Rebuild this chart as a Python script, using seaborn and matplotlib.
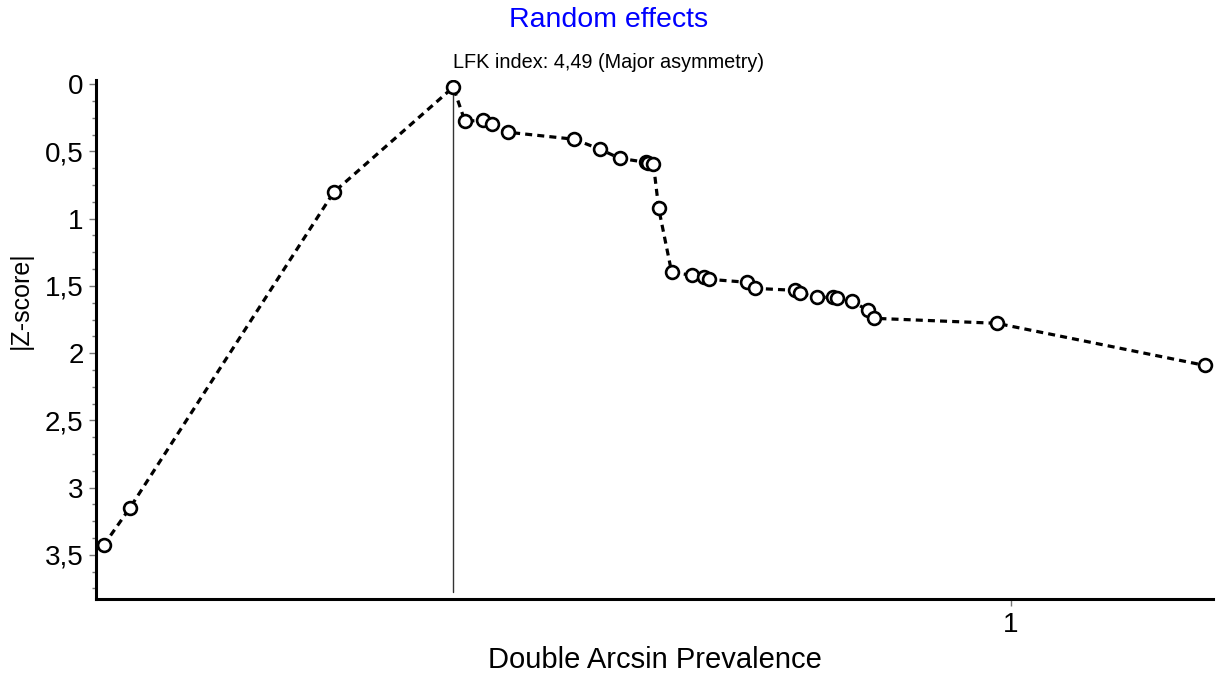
import matplotlib
matplotlib.use("Agg")
import matplotlib.pyplot as plt
from matplotlib.ticker import MultipleLocator, FuncFormatter
import seaborn as sns
import pandas as pd

# Doi plot: double arcsine prevalence vs. |Z-score| (rank-based)
prevalence = [0.302, 0.322, 0.479, 0.571, 0.580, 0.594, 0.601, 0.613,
              0.664, 0.684, 0.699, 0.719, 0.721, 0.725, 0.729, 0.739,
              0.755, 0.764, 0.768, 0.797, 0.803, 0.834, 0.838, 0.851,
              0.863, 0.866, 0.878, 0.890, 0.895, 0.989, 1.149]
abs_z = [3.430, 3.155, 0.804, 0.022, 0.275, 0.268, 0.298, 0.357,
         0.409, 0.484, 0.551, 0.580, 0.588, 0.595, 0.923, 1.399,
         1.421, 1.436, 1.451, 1.473, 1.518, 1.533, 1.555, 1.585,
         1.585, 1.592, 1.615, 1.682, 1.741, 1.778, 2.091]

title_text = "Random effects"
subtitle_text = "LFK index: 4,49 (Major asymmetry)"
x_label = "Double Arcsin Prevalence"
y_label = "|Z-score|"

df = pd.DataFrame({"prev": prevalence, "z": abs_z})

sns.set_style("white")
plt.rcParams["font.family"] = ["Liberation Sans", "DejaVu Sans"]
plt.rcParams["text.color"] = "black"
plt.rcParams["axes.labelcolor"] = "black"
plt.rcParams["xtick.labelcolor"] = "black"
plt.rcParams["ytick.labelcolor"] = "black"

fig = plt.figure(figsize=(12.17, 6.74), dpi=100)
ax = fig.add_axes([0.0789, 0.111, 0.9178, 0.770])

# vertical reference line at the point closest to zero
i_min = abs_z.index(min(abs_z))
ax.plot([prevalence[i_min], prevalence[i_min]], [abs_z[i_min], 3.78],
        color="#333333", linewidth=1.0, zorder=1)

sns.lineplot(data=df, x="prev", y="z", sort=False, ax=ax, color="black",
             linewidth=2.3, linestyle=(0, (2.2, 1.6)), zorder=2)
sns.scatterplot(data=df, x="prev", y="z", ax=ax, marker="o", s=85,
                facecolor="white", edgecolor="black", linewidth=1.9,
                zorder=3)

ax.set_xlim(0.2962, 1.1554)
ax.set_ylim(3.83, -0.03)

ax.xaxis.set_major_locator(MultipleLocator(1))
ax.yaxis.set_major_locator(MultipleLocator(0.5))
ax.yaxis.set_minor_locator(MultipleLocator(0.125))
ax.yaxis.set_major_formatter(
    FuncFormatter(lambda v, p: f"{v:g}".replace(".", ",")))
ax.xaxis.set_major_formatter(
    FuncFormatter(lambda v, p: f"{v:g}".replace(".", ",")))

for side in ("top", "right"):
    ax.spines[side].set_visible(False)
for side in ("left", "bottom"):
    ax.spines[side].set_linewidth(2.2)
    ax.spines[side].set_color("black")

ax.tick_params(axis="both", which="major", direction="out", length=5,
               width=1, color="#777777", labelsize=20, pad=4, left=True,
               bottom=True)
ax.tick_params(axis="y", which="minor", direction="out", length=3,
               width=1, color="#777777", left=True)

ax.set_xlabel(x_label, fontsize=21, labelpad=6)
ax.set_ylabel(y_label, fontsize=18)
ax.yaxis.set_label_coords(-0.057, 0.576)

fig.text(0.5, 0.970, title_text, ha="center", va="center",
         fontsize=20.5, color="#0000ff")
fig.text(0.5, 0.908, subtitle_text, ha="center", va="center",
         fontsize=14.3, color="black")

fig.savefig("out.png", dpi=100, facecolor="white")
